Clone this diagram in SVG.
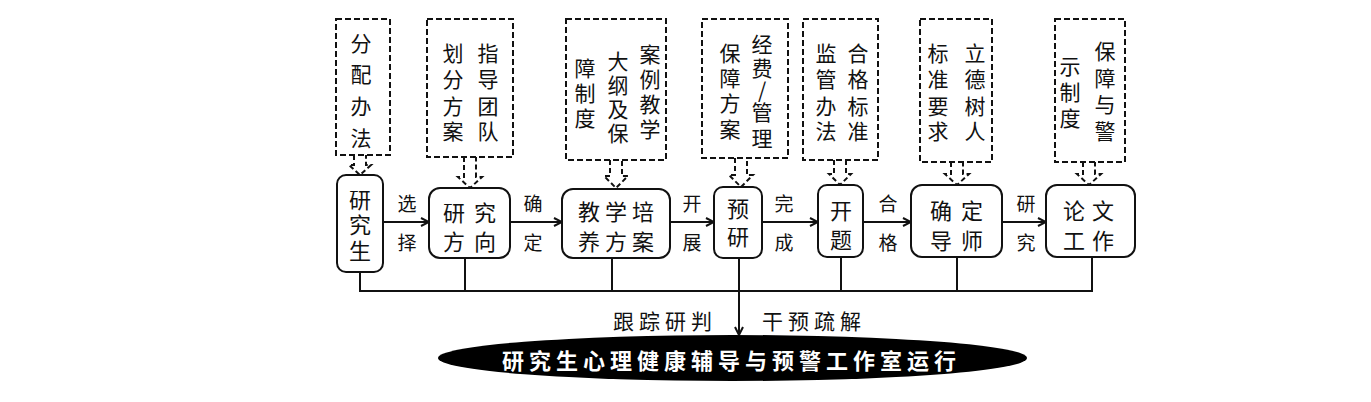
<svg xmlns="http://www.w3.org/2000/svg" width="1371" height="402" viewBox="0 0 1371 402">
<defs>
<style>
text{font-family:"Noto Sans CJK SC","Noto Sans",sans-serif;fill:#111;text-anchor:middle;dominant-baseline:central}
.nt{font-size:22px}
.bt{font-size:21px}
.el{font-size:19px}
.lb{font-size:21px;letter-spacing:5px;text-anchor:start}
.node{fill:#fff;stroke:#111;stroke-width:2}
.dash{fill:#fff;stroke:#111;stroke-width:2;stroke-dasharray:6 3}
.darr{fill:none;stroke:#111;stroke-width:2;stroke-dasharray:5 3}
.line{fill:none;stroke:#111;stroke-width:2}
.title{font-size:22px;fill:#fff;font-weight:bold;letter-spacing:5px;text-anchor:start}
</style>
<marker id="ah" viewBox="0 0 10 10" refX="9" refY="5" markerWidth="10" markerHeight="10" markerUnits="userSpaceOnUse" orient="auto">
<path d="M1,1 L9,5 L1,9" fill="none" stroke="#111" stroke-width="2"/>
</marker>
</defs>
<rect width="1371" height="402" fill="#fff"/>

<g id="connectors">
<line class="line" x1="383" y1="222" x2="429" y2="222" marker-end="url(#ah)"/>
<line class="line" x1="510" y1="222" x2="562" y2="222" marker-end="url(#ah)"/>
<line class="line" x1="670" y1="222" x2="714" y2="222" marker-end="url(#ah)"/>
<line class="line" x1="762" y1="222" x2="818" y2="222" marker-end="url(#ah)"/>
<line class="line" x1="863" y1="222" x2="911" y2="222" marker-end="url(#ah)"/>
<line class="line" x1="1002" y1="222" x2="1046" y2="222" marker-end="url(#ah)"/>
<path class="line" d="M360,272 V291 M465,258 V291 M612,258 V291 M841,257 V291 M957,257 V291 M1092,257 V291 M359,291 H1093"/>
<line class="line" x1="739" y1="258" x2="739" y2="335" marker-end="url(#ah)"/>
<path class="darr" d="M354,155 V165 L349,165 L360,175 L371,165 L366,165 V155"/>
<path class="darr" d="M464,157 V177 L458,177 L470,188 L482,177 L476,177 V157"/>
<path class="darr" d="M610,160 V176 L604,176 L616,188 L628,176 L622,176 V160"/>
<path class="darr" d="M735,158 V175 L729,175 L741,187 L753,175 L747,175 V158"/>
<path class="darr" d="M834,160 V174 L829,174 L840,185 L851,174 L846,174 V160"/>
<path class="darr" d="M951,162 V174 L945,174 L957,185 L969,174 L963,174 V162"/>
<path class="darr" d="M1083,162 V174 L1077,174 L1089,185 L1101,174 L1095,174 V162"/>
<text class="el" x="407" y="202">选</text><text class="el" x="407" y="241">择</text>
<text class="el" x="533" y="202">确</text><text class="el" x="533" y="241">定</text>
<text class="el" x="692" y="202">开</text><text class="el" x="692" y="241">展</text>
<text class="el" x="784" y="202">完</text><text class="el" x="784" y="241">成</text>
<text class="el" x="888" y="202">合</text><text class="el" x="888" y="241">格</text>
<text class="el" x="1026" y="202">研</text><text class="el" x="1026" y="241">究</text>
<text class="lb" x="613" y="320">跟踪研判</text>
<text class="lb" x="762" y="320">干预疏解</text>
</g>

<g id="box-1">
<rect class="dash" x="336" y="19" width="54" height="136"/>
<text class="bt" x="361" y="42">分</text><text class="bt" x="361" y="73">配</text><text class="bt" x="361" y="105">办</text><text class="bt" x="361" y="137">法</text>
</g>
<g id="box-2">
<rect class="dash" x="427" y="19" width="86" height="138"/>
<text class="bt" x="488" y="52">指</text><text class="bt" x="488" y="78">导</text><text class="bt" x="488" y="105">团</text><text class="bt" x="488" y="130">队</text>
<text class="bt" x="453" y="52">划</text><text class="bt" x="453" y="78">分</text><text class="bt" x="453" y="105">方</text><text class="bt" x="453" y="130">案</text>
</g>
<g id="box-3">
<rect class="dash" x="566" y="19" width="100" height="141"/>
<text class="bt" x="650" y="53">案</text><text class="bt" x="650" y="78">例</text><text class="bt" x="650" y="103">教</text><text class="bt" x="650" y="128">学</text>
<text class="bt" x="618" y="60">大</text><text class="bt" x="618" y="84">纲</text><text class="bt" x="618" y="108">及</text><text class="bt" x="618" y="132">保</text>
<text class="bt" x="585" y="67">障</text><text class="bt" x="585" y="92">制</text><text class="bt" x="585" y="117">度</text>
</g>
<g id="box-4">
<rect class="dash" x="702" y="19" width="86" height="139"/>
<text class="bt" x="762" y="43">经</text><text class="bt" x="762" y="67">费</text><text class="bt" x="762" y="89">/</text><text class="bt" x="762" y="111">管</text><text class="bt" x="762" y="137">理</text>
<text class="bt" x="730" y="52">保</text><text class="bt" x="730" y="77">障</text><text class="bt" x="730" y="102">方</text><text class="bt" x="730" y="128">案</text>
</g>
<g id="box-5">
<rect class="dash" x="803" y="19" width="75" height="141"/>
<text class="bt" x="858" y="52">合</text><text class="bt" x="858" y="78">格</text><text class="bt" x="858" y="105">标</text><text class="bt" x="858" y="130">准</text>
<text class="bt" x="826" y="52">监</text><text class="bt" x="826" y="78">管</text><text class="bt" x="826" y="105">办</text><text class="bt" x="826" y="130">法</text>
</g>
<g id="box-6">
<rect class="dash" x="920" y="19" width="72" height="143"/>
<text class="bt" x="975" y="52">立</text><text class="bt" x="975" y="78">德</text><text class="bt" x="975" y="105">树</text><text class="bt" x="975" y="130">人</text>
<text class="bt" x="938" y="52">标</text><text class="bt" x="938" y="78">准</text><text class="bt" x="938" y="105">要</text><text class="bt" x="938" y="130">求</text>
</g>
<g id="box-7">
<rect class="dash" x="1055" y="19" width="70" height="143"/>
<text class="bt" x="1105" y="50">保</text><text class="bt" x="1105" y="77">障</text><text class="bt" x="1105" y="103">与</text><text class="bt" x="1105" y="130">警</text>
<text class="bt" x="1070" y="65">示</text><text class="bt" x="1070" y="91">制</text><text class="bt" x="1070" y="117">度</text>
</g>

<g id="node-yjs">
<rect class="node" x="337" y="175" width="46" height="97" rx="9"/>
<text class="nt" x="360" y="198">研</text><text class="nt" x="360" y="223">究</text><text class="nt" x="360" y="249">生</text>
</g>
<g id="node-yjfx">
<rect class="node" x="429" y="188" width="81" height="70" rx="11"/>
<text class="nt" x="454 485" y="211">研究</text><text class="nt" x="454 485" y="240">方向</text>
</g>
<g id="node-jxpyfa">
<rect class="node" x="562" y="189" width="108" height="69" rx="11"/>
<text class="nt" x="589 616 643" y="210">教学培</text><text class="nt" x="589 616 643" y="240">养方案</text>
</g>
<g id="node-yy">
<rect class="node" x="714" y="187" width="48" height="71" rx="9"/>
<text class="nt" x="738" y="207">预</text><text class="nt" x="738" y="235">研</text>
</g>
<g id="node-kt">
<rect class="node" x="818" y="185" width="45" height="72" rx="9"/>
<text class="nt" x="841" y="209">开</text><text class="nt" x="841" y="238">题</text>
</g>
<g id="node-qdds">
<rect class="node" x="911" y="185" width="91" height="72" rx="11"/>
<text class="nt" x="941 972" y="209">确定</text><text class="nt" x="941 972" y="239">导师</text>
</g>
<g id="node-lwgz">
<rect class="node" x="1046" y="185" width="89" height="72" rx="11"/>
<text class="nt" x="1074 1103" y="209">论文</text><text class="nt" x="1074 1103" y="239">工作</text>
</g>
<g id="node-studio">
<ellipse cx="732.5" cy="358" rx="294.5" ry="23" fill="#000"/>
<text class="title" x="502" y="359">研究生心理健康辅导与预警工作室运行</text>
</g>
</svg>
